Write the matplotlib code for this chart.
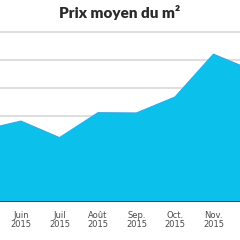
import matplotlib.pyplot as plt
import numpy as np

# Data (arbitrary units: one unit per gridline).
months = ['Mai\n2015', 'Juin\n2015', 'Juil\n2015', 'Août\n2015', 'Sep.\n2015',
          'Oct.\n2015', 'Nov.\n2015', 'Déc.\n2015']
prices = [2.5, 2.82, 2.23, 3.12, 3.11, 3.68, 5.21, 4.64]
grid_levels = [1, 2, 3, 4, 5, 6]

fill_color = '#0cc0ec'
edge_color = '#3aa6dc'

fig = plt.figure(figsize=(2.4, 2.4), dpi=100)
ax = fig.add_axes([0, 38 / 240, 1, 182 / 240])

x = np.arange(len(months)) - 1
ymin = -0.07
ax.set_xlim(-0.545, 5.69)
ax.set_ylim(ymin, 6.43)

# Horizontal gridlines behind the area.
for g in grid_levels:
    ax.axhline(g, color='#d9d9d9', lw=1.2, zorder=1)

ax.fill_between(x, prices, ymin, color=fill_color, lw=0, zorder=2)
ax.plot(x, prices, color=edge_color, lw=0.8, zorder=3)
ax.axhline(ymin, color='#2b3e4c', lw=2.0, zorder=4)

for s in ax.spines.values():
    s.set_visible(False)
ax.set_yticks([])
ax.set_xticks(x[1:7])
ax.set_xticklabels(months[1:7], fontsize=6, color='#4a4a4a', linespacing=1.0,
                   family='DejaVu Sans')
ax.tick_params(axis='x', length=0, pad=6.5)

fig.text(0.5, 1 - 12 / 240, 'Prix moyen du m²', ha='center', va='center',
         fontsize=11, fontweight='heavy', color='#2a2a2a', family='Lato')

plt.savefig('out.png', dpi=100)
